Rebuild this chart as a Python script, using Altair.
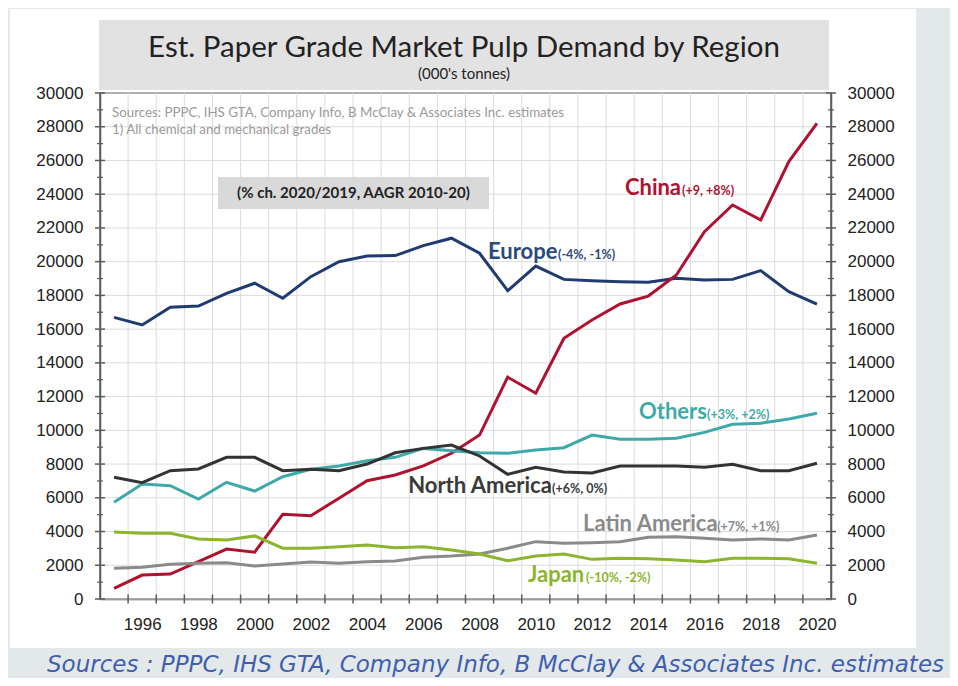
import altair as alt
import pandas as pd

# ---------------- data ----------------
years = list(range(1995, 2021))
regions = ["Europe", "China", "Others", "North America", "Latin America", "Japan"]

europe = [16700, 16250, 17300, 17370, 18120, 18720, 17830, 19110, 20000, 20340, 20360, 20950, 21390,
          20500, 18280, 19740, 18950, 18870, 18810, 18780, 19010, 18910, 18950, 19470, 18220, 17490]
china = [630, 1420, 1480, 2210, 2960, 2770, 5020, 4940, 5970, 7010, 7350, 7890, 8640,
         9720, 13150, 12200, 15460, 16540, 17490, 17960, 19210, 21780, 23360, 22470, 25930, 28200]
others = [5730, 6820, 6720, 5930, 6920, 6400, 7250, 7690, 7890, 8200, 8400, 8930, 8790,
          8670, 8640, 8830, 8970, 9720, 9470, 9470, 9530, 9880, 10360, 10420, 10670, 11010]
north_america = [7220, 6900, 7610, 7710, 8400, 8400, 7610, 7690, 7610, 8000, 8670, 8930, 9130,
                 8480, 7390, 7810, 7530, 7470, 7890, 7890, 7890, 7810, 7990, 7610, 7610, 8050]
latin_america = [1820, 1880, 2060, 2120, 2150, 1960, 2080, 2190, 2120, 2210, 2250, 2470, 2550,
                 2670, 3010, 3400, 3300, 3340, 3400, 3660, 3690, 3600, 3500, 3560, 3500, 3790]
japan = [3970, 3900, 3900, 3560, 3500, 3740, 3010, 3010, 3100, 3200, 3040, 3100, 2900,
         2670, 2270, 2550, 2670, 2350, 2410, 2390, 2310, 2210, 2410, 2410, 2390, 2120]

series = [europe, china, others, north_america, latin_america, japan]
line_colors = ["#1f3b70", "#ae1230", "#3ea9a8", "#333333", "#8a8a8a", "#8db42e"]

label_names = ["China", "Europe", "Others", "North America", "Latin America", "Japan"]
label_notes = ["(+9, +8%)", "(-4%, -1%)", "(+3%, +2%)", "(+6%, 0%)", "(+7%, +1%)", "(-10%, -2%)"]
label_name_x = [2013.17, 2008.30, 2013.67, 2005.46, 2011.68, 2009.72]
label_note_x = [2015.20, 2010.79, 2016.09, 2010.58, 2016.45, 2011.79]
label_y = [23950, 20160, 10670, 6290, 4030, 1010]
label_colors = ["#ae1230", "#2b4a7c", "#3ea9a8", "#3a3a3a", "#8a8a8a", "#8db42e"]

x_domain = [1994.5, 2020.5]
y_domain = [0, 30000]
x_label_years = list(range(1996, 2021, 2))
x_tick_positions = [y + 0.5 for y in range(1995, 2020)]
y_major = list(range(0, 30001, 2000))
y_minor = list(range(1000, 30000, 2000))

title_text = "Est. Paper Grade Market Pulp Demand by Region"
subtitle_text = "(000's tonnes)"
note1 = "Sources: PPPC, IHS GTA, Company Info, B McClay & Associates Inc. estimates"
note2 = "1) All chemical and mechanical grades"
legend_text = "(% ch. 2020/2019, AAGR 2010-20)"
caption_text = "Sources : PPPC, IHS GTA, Company Info, B McClay & Associates Inc. estimates"

# ---------------- tables ----------------
rows = []
for r, vals in zip(regions, series):
    for yr, v in zip(years, vals):
        rows.append({"region": r, "year": yr, "value": v})
df = pd.DataFrame(rows)

lab = pd.DataFrame({
    "name": label_names, "note": label_notes,
    "xn": label_name_x, "xt": label_note_x, "y": label_y, "color": label_colors,
})
one = pd.DataFrame({"k": [0]})
vg_df = pd.DataFrame({"pos": x_tick_positions, "lo": y_domain[0], "hi": y_domain[1]})
hg_df = pd.DataFrame({"pos": y_major, "lo": x_domain[0], "hi": x_domain[1]})
ymaj_df = pd.DataFrame({"pos": y_major})
ymin_df = pd.DataFrame({"pos": y_minor})
xt_df = pd.DataFrame({"pos": x_tick_positions})

W, H = 731, 506
x_scale = alt.Scale(domain=x_domain, nice=False, zero=False)
y_scale = alt.Scale(domain=y_domain, nice=False, zero=True)
color_scale = alt.Scale(domain=regions, range=line_colors)

AX = "#5a5a5a"
GRID = "#dcdcdc"
common = dict(
    domainColor=AX, domainWidth=1.5, ticks=False, grid=False,
    labelFont="Liberation Sans", labelFontSize=17, labelColor="#222222",
    labelOverlap=False, labelFlush=False, title=None,
)

x_label_axis = alt.Axis(values=x_label_years, orient="bottom", format="d",
                        domain=True, labelPadding=17, **common)


def y_label_axis(orient, pad):
    return alt.Axis(values=y_major, orient=orient, format="d", domain=True,
                    labelPadding=pad, **common)


lines = alt.Chart(df).mark_line(strokeWidth=3).encode(
    x=alt.X("year:Q", scale=x_scale, axis=x_label_axis),
    y=alt.Y("value:Q", scale=y_scale, axis=y_label_axis("left", 17)),
    color=alt.Color("region:N", scale=color_scale, legend=None),
    detail="region:N",
)
ghost = alt.Chart(df).mark_line(strokeOpacity=0).encode(
    x=alt.X("year:Q", scale=x_scale, axis=None),
    y=alt.Y("value:Q", scale=y_scale, axis=y_label_axis("right", 16)),
    detail="region:N",
)

# gridlines (through both scales) and ticks
vgrid = alt.Chart(vg_df).mark_rule(color=GRID, strokeWidth=1).encode(
    x=alt.X("pos:Q", scale=x_scale, axis=None),
    y=alt.Y("lo:Q", scale=y_scale, axis=None), y2="hi:Q")
hgrid = alt.Chart(hg_df).mark_rule(color=GRID, strokeWidth=1).encode(
    y=alt.Y("pos:Q", scale=y_scale, axis=None),
    x=alt.X("lo:Q", scale=x_scale, axis=None), x2="hi:Q")
xticks = alt.Chart(xt_df).mark_tick(orient="vertical", size=9, thickness=1.5, color=AX, opacity=1).encode(
    x=alt.X("pos:Q", scale=x_scale, axis=None), y=alt.value(H))
yticks_l = alt.Chart(ymaj_df).mark_tick(orient="horizontal", size=10, thickness=1.5, color=AX, opacity=1).encode(
    y=alt.Y("pos:Q", scale=y_scale, axis=None), x=alt.value(0))
yticks_r = alt.Chart(ymaj_df).mark_tick(orient="horizontal", size=10, thickness=1.5, color=AX, opacity=1).encode(
    y=alt.Y("pos:Q", scale=y_scale, axis=None), x=alt.value(W))
ymin_l = alt.Chart(ymin_df).mark_tick(orient="horizontal", size=6, thickness=1.2, color=AX, opacity=1).encode(
    y=alt.Y("pos:Q", scale=y_scale, axis=None), x=alt.value(0))
ymin_r = alt.Chart(ymin_df).mark_tick(orient="horizontal", size=6, thickness=1.2, color=AX, opacity=1).encode(
    y=alt.Y("pos:Q", scale=y_scale, axis=None), x=alt.value(W))

name_text = alt.Chart(lab).mark_text(
    font="Lato", fontSize=22, fontWeight="bold", align="left", baseline="alphabetic"
).encode(
    x=alt.X("xn:Q", scale=x_scale, axis=None), y=alt.Y("y:Q", scale=y_scale, axis=None),
    text="name:N", color=alt.Color("color:N", scale=None),
)
note_text = alt.Chart(lab).mark_text(
    font="Lato", fontSize=12.5, fontWeight="bold", align="left", baseline="alphabetic"
).encode(
    x=alt.X("xt:Q", scale=x_scale, axis=None), y=alt.Y("y:Q", scale=y_scale, axis=None),
    text="note:N", color=alt.Color("color:N", scale=None),
)

# ---------------- decoration ----------------
GRAY = "#e3e8eb"
frame_right = alt.Chart(one).mark_rect(color=GRAY).encode(
    x=alt.value(816), x2=alt.value(860), y=alt.value(-90), y2=alt.value(600))
frame_bottom = alt.Chart(one).mark_rect(color=GRAY).encode(
    x=alt.value(-95), x2=alt.value(860), y=alt.value(555), y2=alt.value(600))
frame_left = alt.Chart(one).mark_rect(color=GRAY).encode(
    x=alt.value(-95), x2=alt.value(-90), y=alt.value(-90), y2=alt.value(600))
frame_top = alt.Chart(one).mark_rect(color=GRAY).encode(
    x=alt.value(-95), x2=alt.value(860), y=alt.value(-90), y2=alt.value(-84))

title_box = alt.Chart(one).mark_rect(color="#e2e2e2").encode(
    x=alt.value(-1), x2=alt.value(729), y=alt.value(-73), y2=alt.value(-3))
title = alt.Chart(one).mark_text(font="Lato", fontSize=29.5, color="#222222", baseline="middle").encode(
    x=alt.value(364), y=alt.value(-45), text=alt.value(title_text))
subtitle = alt.Chart(one).mark_text(font="Lato", fontSize=15, color="#222222", baseline="middle").encode(
    x=alt.value(364), y=alt.value(-19), text=alt.value(subtitle_text))

notes1 = alt.Chart(one).mark_text(font="Lato", fontSize=13.3, color="#9a9a9a", align="left", baseline="middle").encode(
    x=alt.value(12), y=alt.value(20), text=alt.value(note1))
notes2 = alt.Chart(one).mark_text(font="Lato", fontSize=13.3, color="#9a9a9a", align="left", baseline="middle").encode(
    x=alt.value(12), y=alt.value(37), text=alt.value(note2))

legend_box = alt.Chart(one).mark_rect(color="#d9d9d9").encode(
    x=alt.value(118), x2=alt.value(389), y=alt.value(84), y2=alt.value(116))
legend = alt.Chart(one).mark_text(font="Lato", fontSize=15, fontWeight="bold", color="#222222", baseline="middle").encode(
    x=alt.value(253.5), y=alt.value(100), text=alt.value(legend_text))

caption = alt.Chart(one).mark_text(
    font="DejaVu Sans", fontSize=23, fontStyle="italic", color="#3f5fae",
    baseline="alphabetic").encode(
    x=alt.value(395.5), y=alt.value(579), text=alt.value(caption_text))

chart = alt.layer(
    frame_right, frame_bottom, frame_left, frame_top,
    title_box, title, subtitle,
    vgrid, hgrid, notes1, notes2, legend_box, legend,
    xticks, yticks_l, yticks_r, ymin_l, ymin_r,
    ghost, lines, name_text, note_text, caption,
).resolve_axis(x="independent", y="independent").properties(
    width=W, height=H,
    autosize=alt.AutoSizeParams(type="none"),
    padding={"left": 92, "top": 85, "right": 119, "bottom": 79},
    background="white",
).configure_view(stroke=AX, strokeWidth=1.5)

chart.save("out.html", embed_options={"renderer": "svg", "actions": False})
